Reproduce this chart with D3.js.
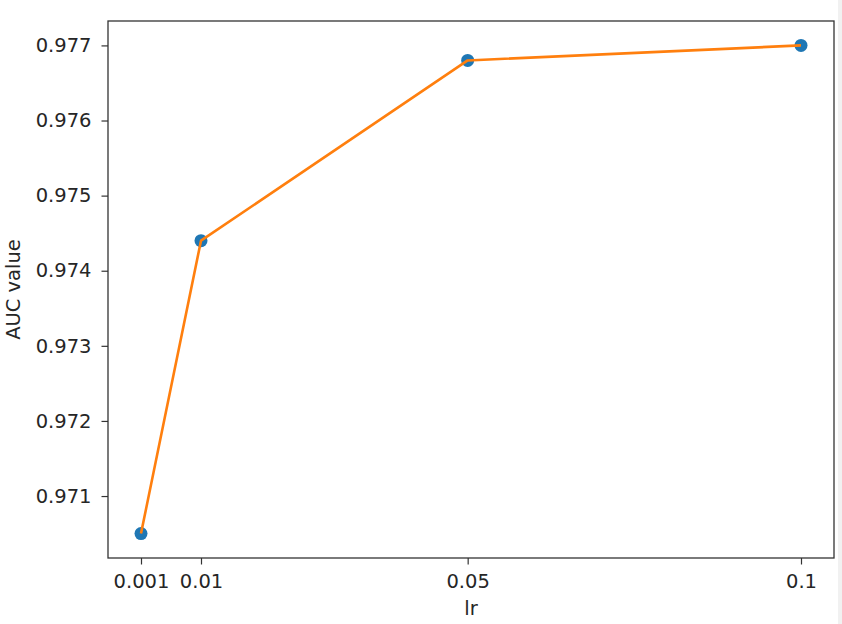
<!DOCTYPE html>
<html>
<head>
<meta charset="utf-8">
<script src="https://cdn.jsdelivr.net/npm/d3@7"></script>
<style>
  html, body { margin: 0; padding: 0; background: #fff; }
  svg { display: block; }
  text { font-family: "DejaVu Sans", sans-serif; fill: #262626; }
</style>
</head>
<body>
<script>
// Data
const lrValues = [0.001, 0.01, 0.05, 0.1];
const aucValues = [0.9705, 0.9744, 0.9768, 0.977];
const xTickValues = [0.001, 0.01, 0.05, 0.1];
const xTickLabels = ["0.001", "0.01", "0.05", "0.1"];
const yTickValues = [0.971, 0.972, 0.973, 0.974, 0.975, 0.976, 0.977];
const xLabel = "lr";
const yLabel = "AUC value";

const W = 842, H = 624;
const m = { left: 108, top: 21, right: 834, bottom: 558 };

const svg = d3.select("body").append("svg").attr("width", W).attr("height", H);
svg.append("rect").attr("width", W).attr("height", H).attr("fill", "#fff");
svg.append("rect").attr("x", 838).attr("y", 0).attr("width", 4).attr("height", H).attr("fill", "#f1f1f1");

// matplotlib-like 5% margins
const xPad = (d3.max(lrValues) - d3.min(lrValues)) * 0.05;
const yPad = (d3.max(aucValues) - d3.min(aucValues)) * 0.05;
const x = d3.scaleLinear()
  .domain([d3.min(lrValues) - xPad, d3.max(lrValues) + xPad])
  .range([m.left, m.right]);
const y = d3.scaleLinear()
  .domain([d3.min(aucValues) - yPad, d3.max(aucValues) + yPad])
  .range([m.bottom, m.top]);

const tickColor = "#333";
const fontSize = 19.5;

// X axis
const xAxis = svg.append("g").attr("transform", `translate(0,${m.bottom})`)
  .call(d3.axisBottom(x).tickValues(xTickValues)
    .tickFormat((d, i) => xTickLabels[i]).tickSize(6.5).tickPadding(9.5));
xAxis.select(".domain").remove();
xAxis.selectAll("line").attr("stroke", tickColor).attr("stroke-width", 1.2);
xAxis.selectAll("text").attr("font-size", fontSize).attr("fill", "#262626")
  .attr("font-family", "DejaVu Sans, sans-serif");

// Y axis
const yAxis = svg.append("g").attr("transform", `translate(${m.left},0)`)
  .call(d3.axisLeft(y).tickValues(yTickValues)
    .tickFormat(d3.format(".3f")).tickSize(6.5).tickPadding(10));
yAxis.select(".domain").remove();
yAxis.selectAll("line").attr("stroke", tickColor).attr("stroke-width", 1.2);
yAxis.selectAll("text").attr("font-size", fontSize).attr("fill", "#262626")
  .attr("font-family", "DejaVu Sans, sans-serif");

// Frame
svg.append("rect")
  .attr("x", m.left).attr("y", m.top)
  .attr("width", m.right - m.left).attr("height", m.bottom - m.top)
  .attr("fill", "none").attr("stroke", tickColor).attr("stroke-width", 1.3);

const pts = lrValues.map((v, i) => [v, aucValues[i]]);

// Points
svg.append("g").selectAll("circle").data(pts).join("circle")
  .attr("cx", d => x(d[0])).attr("cy", d => y(d[1]))
  .attr("r", 6.5).attr("fill", "#1f77b4");

// Line
svg.append("path").datum(pts)
  .attr("d", d3.line().x(d => x(d[0])).y(d => y(d[1])))
  .attr("fill", "none").attr("stroke", "#ff7f0e").attr("stroke-width", 2.6)
  .attr("stroke-linejoin", "round");

// Axis labels
svg.append("text")
  .attr("x", (m.left + m.right) / 2).attr("y", 609)
  .attr("text-anchor", "middle").attr("dominant-baseline", "middle")
  .attr("font-size", fontSize).text(xLabel);

svg.append("text")
  .attr("transform", `translate(14,${(m.top + m.bottom) / 2}) rotate(-90)`)
  .attr("text-anchor", "middle").attr("dominant-baseline", "middle")
  .attr("font-size", fontSize).text(yLabel);
</script>
</body>
</html>
